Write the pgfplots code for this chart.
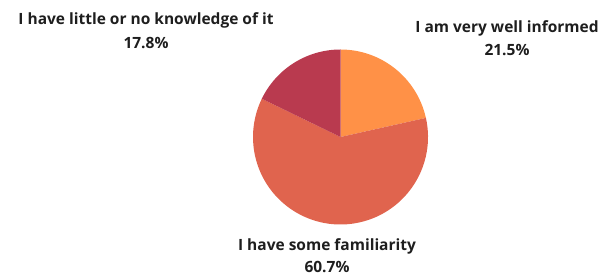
\documentclass[border=0pt]{standalone}
\usepackage{pgfplots}
\pgfplotsset{compat=1.18}
\usepackage{pgfplotstable}
\usepackage{fontspec}
\setmainfont{Open Sans}
\definecolor{sA}{HTML}{FF9147}
\definecolor{sB}{HTML}{E0644E}
\definecolor{sC}{HTML}{B93A4F}
\definecolor{txt}{HTML}{1E1E1E}
\pgfplotstableread{
label value
informed 21.5
some 60.7
little 17.8
}\piedata
\begin{document}
\begin{tikzpicture}
\pgfplotstablegetelem{0}{value}\of\piedata\let\va\pgfplotsretval
\pgfplotstablegetelem{1}{value}\of\piedata\let\vb\pgfplotsretval
\pgfplotstablegetelem{2}{value}\of\piedata\let\vc\pgfplotsretval
\pgfmathsetmacro\aA{90}
\pgfmathsetmacro\aB{90-3.6*\va}
\pgfmathsetmacro\aC{\aB-3.6*\vb}
\pgfmathsetmacro\aD{\aC-3.6*\vc}
\begin{axis}[
  x=1pt, y=1pt, xmin=0, xmax=615, ymin=0, ymax=275,
  hide axis, scale only axis, clip=false,
]
\path (axis cs:0,0) rectangle (axis cs:615,275);
\fill[sA] (axis cs:340.5,138) -- ++(\aA:87.5pt) arc[start angle=\aA, end angle=\aB, radius=87.5pt] -- cycle;
\fill[sB] (axis cs:340.5,138) -- ++(\aB:87.5pt) arc[start angle=\aB, end angle=\aC, radius=87.5pt] -- cycle;
\fill[sC] (axis cs:340.5,138) -- ++(\aC:87.5pt) arc[start angle=\aC, end angle=\aD, radius=87.5pt] -- cycle;
\begin{scope}[every node/.style={font=\fontsize{15.5}{18}\selectfont\bfseries, text=txt, inner sep=0pt}]
\node at (axis cs:146,255) {I have little or no knowledge of it};
\node at (axis cs:146,232.5) {17.8\%};
\node at (axis cs:507,247) {I am very well informed};
\node at (axis cs:507,225) {21.5\%};
\node at (axis cs:327,29) {I have some familiarity};
\node at (axis cs:327,8) {60.7\%};
\end{scope}
\end{axis}
\end{tikzpicture}
\end{document}
